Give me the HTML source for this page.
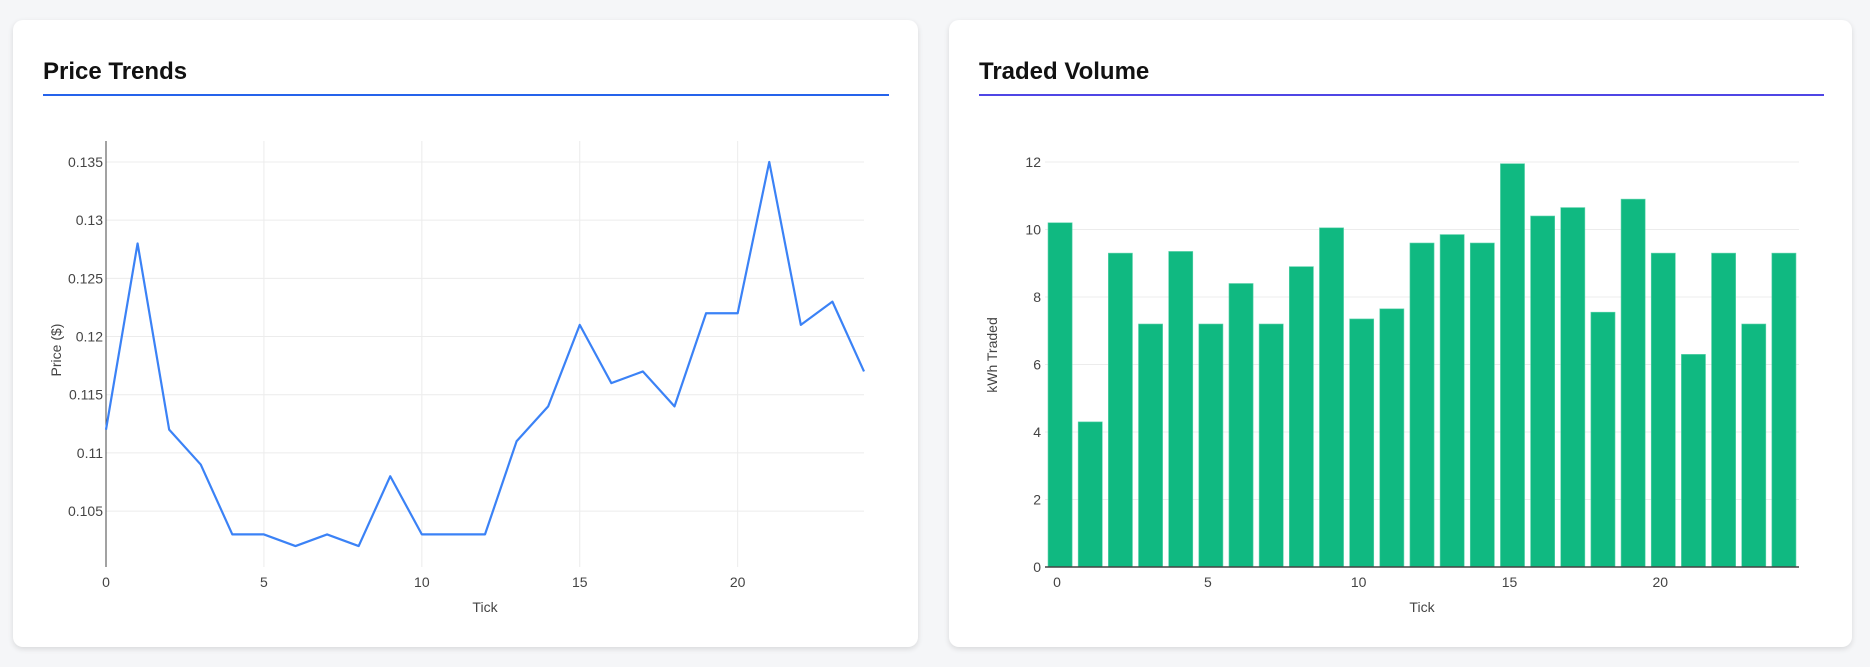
<!DOCTYPE html>
<html><head><meta charset="utf-8"><style>
body{margin:0;background:#f5f6f8;width:1870px;height:667px;overflow:hidden;font-family:"Liberation Sans",sans-serif}
.card{position:absolute;top:20px;height:627px;background:#fff;border-radius:10px;box-shadow:0 2px 6px rgba(0,0,0,0.12)}
.title{position:absolute;left:30px;top:38px;font-size:24px;line-height:28px;font-weight:bold;color:#111}
.rule{position:absolute;left:30px;top:74px;height:2px}
svg{position:absolute;left:0;top:0}
text{font-family:"Liberation Sans",sans-serif;fill:#444;font-size:14px}
</style></head><body>
<div class="card" style="left:13px;width:905px">
<div class="title">Price Trends</div>
<div class="rule" style="width:846px;background:#2563eb"></div>
</div>
<div class="card" style="left:949px;width:903px">
<div class="title">Traded Volume</div>
<div class="rule" style="width:845px;background:#4f46e5"></div>
</div>
<svg id="chart" width="1870" height="667"></svg>
<script>
const ticks = [0,1,2,3,4,5,6,7,8,9,10,11,12,13,14,15,16,17,18,19,20,21,22,23,24];
const prices = [0.112,0.128,0.112,0.109,0.103,0.103,0.102,0.103,0.102,0.108,0.103,0.103,0.103,0.111,0.114,0.121,0.116,0.117,0.114,0.122,0.122,0.135,0.121,0.123,0.117];
const volumes = [10.2,4.3,9.3,7.2,9.35,7.2,8.4,7.2,8.9,10.05,7.35,7.65,9.6,9.85,9.6,11.95,10.4,10.65,7.55,10.9,9.3,6.3,9.3,7.2,9.3];
const priceYTicks = [0.105,0.11,0.115,0.12,0.125,0.13,0.135];
const priceYLabels = ["0.105","0.11","0.115","0.12","0.125","0.13","0.135"];
const xTicks = [0,5,10,15,20];
const volYTicks = [0,2,4,6,8,10,12];

const svg = document.getElementById('chart');
const NS = 'http://www.w3.org/2000/svg';
function mk(tag, attrs, txt){const e=document.createElementNS(NS,tag);for(const k in attrs)e.setAttribute(k,attrs[k]);if(txt!==undefined)e.textContent=txt;svg.appendChild(e);return e;}

const pL=106,pR=864,pT=141,pB=567;
const px = v => pL + (v-0)/(24-0)*(pR-pL);
const py = v => pB - (v-0.1002)/(0.1368-0.1002)*(pB-pT);
xTicks.forEach(t=>{
  let g=mk('line',{x1:px(t),x2:px(t),y1:pT,y2:pB,stroke:'#ececec','stroke-width':1});
  
  
  let l=mk('text',{x:px(t),y:pB+20,'text-anchor':'middle'},String(t));
  
  
});
priceYTicks.forEach((t,i)=>{
  let g=mk('line',{x1:pL,x2:pR,y1:py(t),y2:py(t),stroke:'#ececec','stroke-width':1});
  
  
  let l=mk('text',{x:pL-3,y:py(t)+5,'text-anchor':'end'},priceYLabels[i]);
  
  
});
let ya=mk('line',{x1:pL,x2:pL,y1:pT,y2:pB,stroke:'#444','stroke-width':1});


let pline=mk('polyline',{points:prices.map((v,i)=>px(ticks[i])+','+py(v)).join(' '),fill:'none',stroke:'#3b82f6','stroke-width':2.2,'stroke-linejoin':'round'});


let pxt=mk('text',{x:(pL+pR)/2,y:612,'text-anchor':'middle','font-size':'16'},'Tick');


let pyt=mk('text',{x:0,y:0,'text-anchor':'middle','font-size':'16',transform:'translate(61,350) rotate(-90)'},'Price ($)');



const vL=1045,vR=1799,vT=141,vB=567;
const vx = v => vL + (v+0.5)/25*(vR-vL);
const vy = v => vB - v/12*(567-162);
volYTicks.forEach(t=>{
  let g=mk('line',{x1:vL,x2:vR,y1:vy(t),y2:vy(t),stroke:'#ececec','stroke-width':1});
  
  
  let l=mk('text',{x:vL-4,y:vy(t)+5,'text-anchor':'end'},String(t));
  
  
});
const bw=(vR-vL)/25*0.8;
volumes.forEach((v,i)=>{
  let b=mk('rect',{x:vx(ticks[i])-bw/2,y:vy(v),width:bw,height:vB-vy(v),fill:'#10b981',stroke:'#5fd3ad','stroke-width':0.6});
  
  
});
let xa=mk('line',{x1:vL,x2:vR,y1:vB,y2:vB,stroke:'#444','stroke-width':1.5});


xTicks.forEach(t=>{
  let l=mk('text',{x:vx(t)-3,y:vB+20,'text-anchor':'middle'},String(t));
  
  
});
let vxt=mk('text',{x:(vL+vR)/2,y:612,'text-anchor':'middle','font-size':'16'},'Tick');


let vyt=mk('text',{x:0,y:0,'text-anchor':'middle','font-size':'16',transform:'translate(997,355) rotate(-90)'},'kWh Traded');


</script>
</body></html>
